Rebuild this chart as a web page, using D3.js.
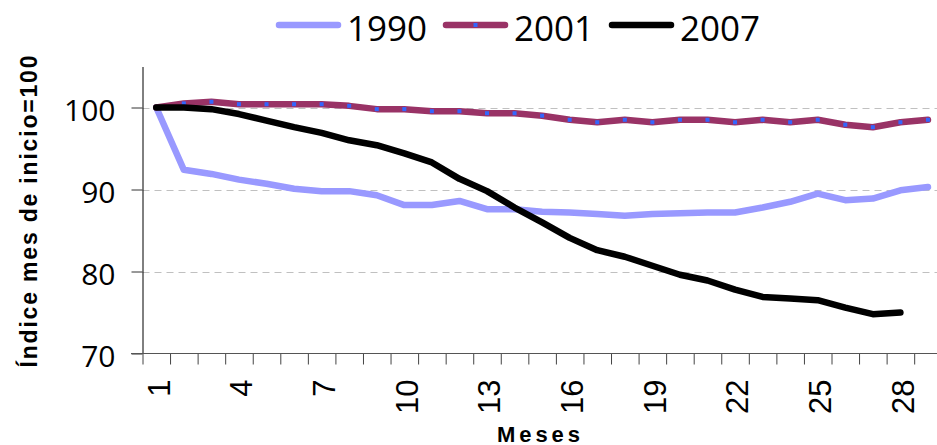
<!DOCTYPE html>
<html>
<head>
<meta charset="utf-8">
<script src="https://cdn.jsdelivr.net/npm/d3@7"></script>
<style>
  html, body { margin: 0; padding: 0; background: #fff; }
  svg { display: block; }
</style>
</head>
<body>
<svg id="chart" width="937" height="445"></svg>
<script>
const months = d3.range(1, 30);
const tickLabels = ["1","4","7","10","13","16","19","22","25","28"];
const yTicks = [70, 80, 90, 100];
const gridTicks = [80, 90, 100];

const series1990 = [100, 92.4, 91.9, 91.2, 90.7, 90.1, 89.8, 89.8, 89.3, 88.1,
  88.1, 88.6, 87.6, 87.6, 87.3, 87.2, 87.0, 86.8, 87.0, 87.1,
  87.2, 87.2, 87.8, 88.5, 89.5, 88.7, 88.9, 89.9, 90.3];
const series2001 = [100, 100.5, 100.7, 100.4, 100.4, 100.4, 100.4, 100.2, 99.8, 99.8,
  99.55, 99.55, 99.3, 99.3, 99.0, 98.5, 98.2, 98.5, 98.2, 98.5,
  98.5, 98.2, 98.5, 98.2, 98.5, 97.9, 97.6, 98.2, 98.5];
const series2007 = [100, 100, 99.8, 99.2, 98.4, 97.6, 96.9, 96.0, 95.4, 94.4,
  93.3, 91.3, 89.8, 87.8, 86.0, 84.1, 82.6, 81.8, 80.7, 79.6,
  78.9, 77.8, 76.9, 76.7, 76.5, 75.6, 74.8, 75.0, null];

const seriesNames = ["1990", "2001", "2007"];
const seriesData = [series1990, series2001, series2007];
const seriesColors = ["#9999FF", "#993366", "#000000"];
const markerColor = "#3366FF";

const svg = d3.select("#chart");
const x0 = 142.5, x1 = 142.5 + 29 * 27.56;
const yTop = 66.5, yBot = 353.5;

const x = d3.scaleBand().domain(months).range([x0, x1]).padding(0);
const xb = d3.scaleLinear().domain([0, 29]).range([x0, x1]);
const y = d3.scaleLinear().domain([70, 105]).range([yBot, yTop]);

// gridlines
svg.append("g").selectAll("line").data(gridTicks).join("line")
  .attr("x1", x0).attr("x2", 937)
  .attr("y1", d => Math.round(y(d)) + 0.5).attr("y2", d => Math.round(y(d)) + 0.5)
  .attr("stroke", "#c0c0c0").attr("stroke-width", 1)
  .attr("stroke-dasharray", "7,5");

// y axis
const yAxis = svg.append("g").attr("transform", `translate(${x0},0)`)
  .call(d3.axisLeft(y).tickValues(yTicks).tickSize(11).tickSizeOuter(0).tickPadding(16).tickFormat(d3.format("d")));
yAxis.select(".domain").attr("stroke", "#000");
yAxis.selectAll(".tick line").attr("stroke", "#333");
yAxis.selectAll("text")
  .attr("font-family", "'Open Sans', sans-serif")
  .attr("font-size", 30).attr("fill", "#000")
  .attr("dy", "0.44em");

// x axis tick marks at band boundaries
const xTickAxis = svg.append("g").attr("transform", `translate(0,${yBot})`)
  .call(d3.axisBottom(xb).tickValues(d3.range(0, 30)).tickSize(11).tickSizeOuter(0).tickFormat(""));
xTickAxis.select(".domain").remove();
xTickAxis.selectAll(".tick line").attr("stroke", "#444");
svg.append("line").attr("x1", 131).attr("x2", 937)
  .attr("y1", yBot).attr("y2", yBot).attr("stroke", "#555").attr("stroke-width", 1);

// x labels
const xLab = svg.append("g").attr("transform", `translate(0,${yBot})`)
  .call(d3.axisBottom(x).tickValues(tickLabels.map(Number)).tickSize(0).tickFormat(d => String(d)));
xLab.select(".domain").remove();
xLab.selectAll(".tick text")
  .attr("font-family", "'Liberation Sans', Arial, sans-serif")
  .attr("font-size", 31).attr("fill", "#000")
  .attr("text-anchor", "end")
  .attr("transform", "translate(0,26) rotate(-90)")
  .attr("x", 0).attr("y", 0).attr("dy", "0.43em");

// lines
const line = d3.line()
  .defined(d => d.v !== null)
  .x(d => x(d.m) + x.bandwidth() / 2)
  .y(d => y(d.v));

seriesData.forEach((arr, i) => {
  const pts = months.map((m, k) => ({ m, v: arr[k] }));
  svg.append("path").datum(pts)
    .attr("d", line)
    .attr("fill", "none")
    .attr("stroke", seriesColors[i])
    .attr("stroke-width", 6.5)
    .attr("stroke-linejoin", "round")
    .attr("stroke-linecap", "round");
  if (i === 1) {
    svg.append("g").selectAll("rect").data(pts.filter(d => d.v !== null)).join("rect")
      .attr("x", d => x(d.m) + x.bandwidth() / 2 - 2)
      .attr("y", d => y(d.v) - 2)
      .attr("width", 4).attr("height", 4)
      .attr("fill", markerColor);
  }
});

// legend
const legendX = [279, 446, 612];
const legend = svg.append("g");
seriesNames.forEach((name, i) => {
  const g = legend.append("g").attr("transform", `translate(${legendX[i]},25)`);
  g.append("line").attr("x1", 0).attr("x2", 59).attr("y1", 0).attr("y2", 0)
    .attr("stroke", seriesColors[i]).attr("stroke-width", 6.5).attr("stroke-linecap", "round");
  if (i === 1) {
    g.append("rect").attr("x", 27.5).attr("y", -2).attr("width", 4).attr("height", 4).attr("fill", markerColor);
  }
  g.append("text").attr("x", 68).attr("y", 16)
    .attr("font-family", "'Open Sans', sans-serif").attr("font-size", 35)
    .attr("fill", "#000").text(name);
});

// axis titles
svg.append("text")
  .attr("transform", "translate(37,211.5) rotate(-90)")
  .attr("text-anchor", "middle")
  .attr("font-family", "'Liberation Sans', Arial, sans-serif")
  .attr("font-weight", "bold").attr("font-size", 23)
  .attr("textLength", 312).attr("lengthAdjust", "spacing")
  .text("Índice mes de inicio=100");

svg.append("text")
  .attr("x", 538.5).attr("y", 441.5)
  .attr("text-anchor", "middle")
  .attr("font-family", "'Liberation Sans', Arial, sans-serif")
  .attr("font-weight", "bold").attr("font-size", 22)
  .attr("textLength", 83).attr("lengthAdjust", "spacing")
  .text("Meses");
</script>
</body>
</html>
